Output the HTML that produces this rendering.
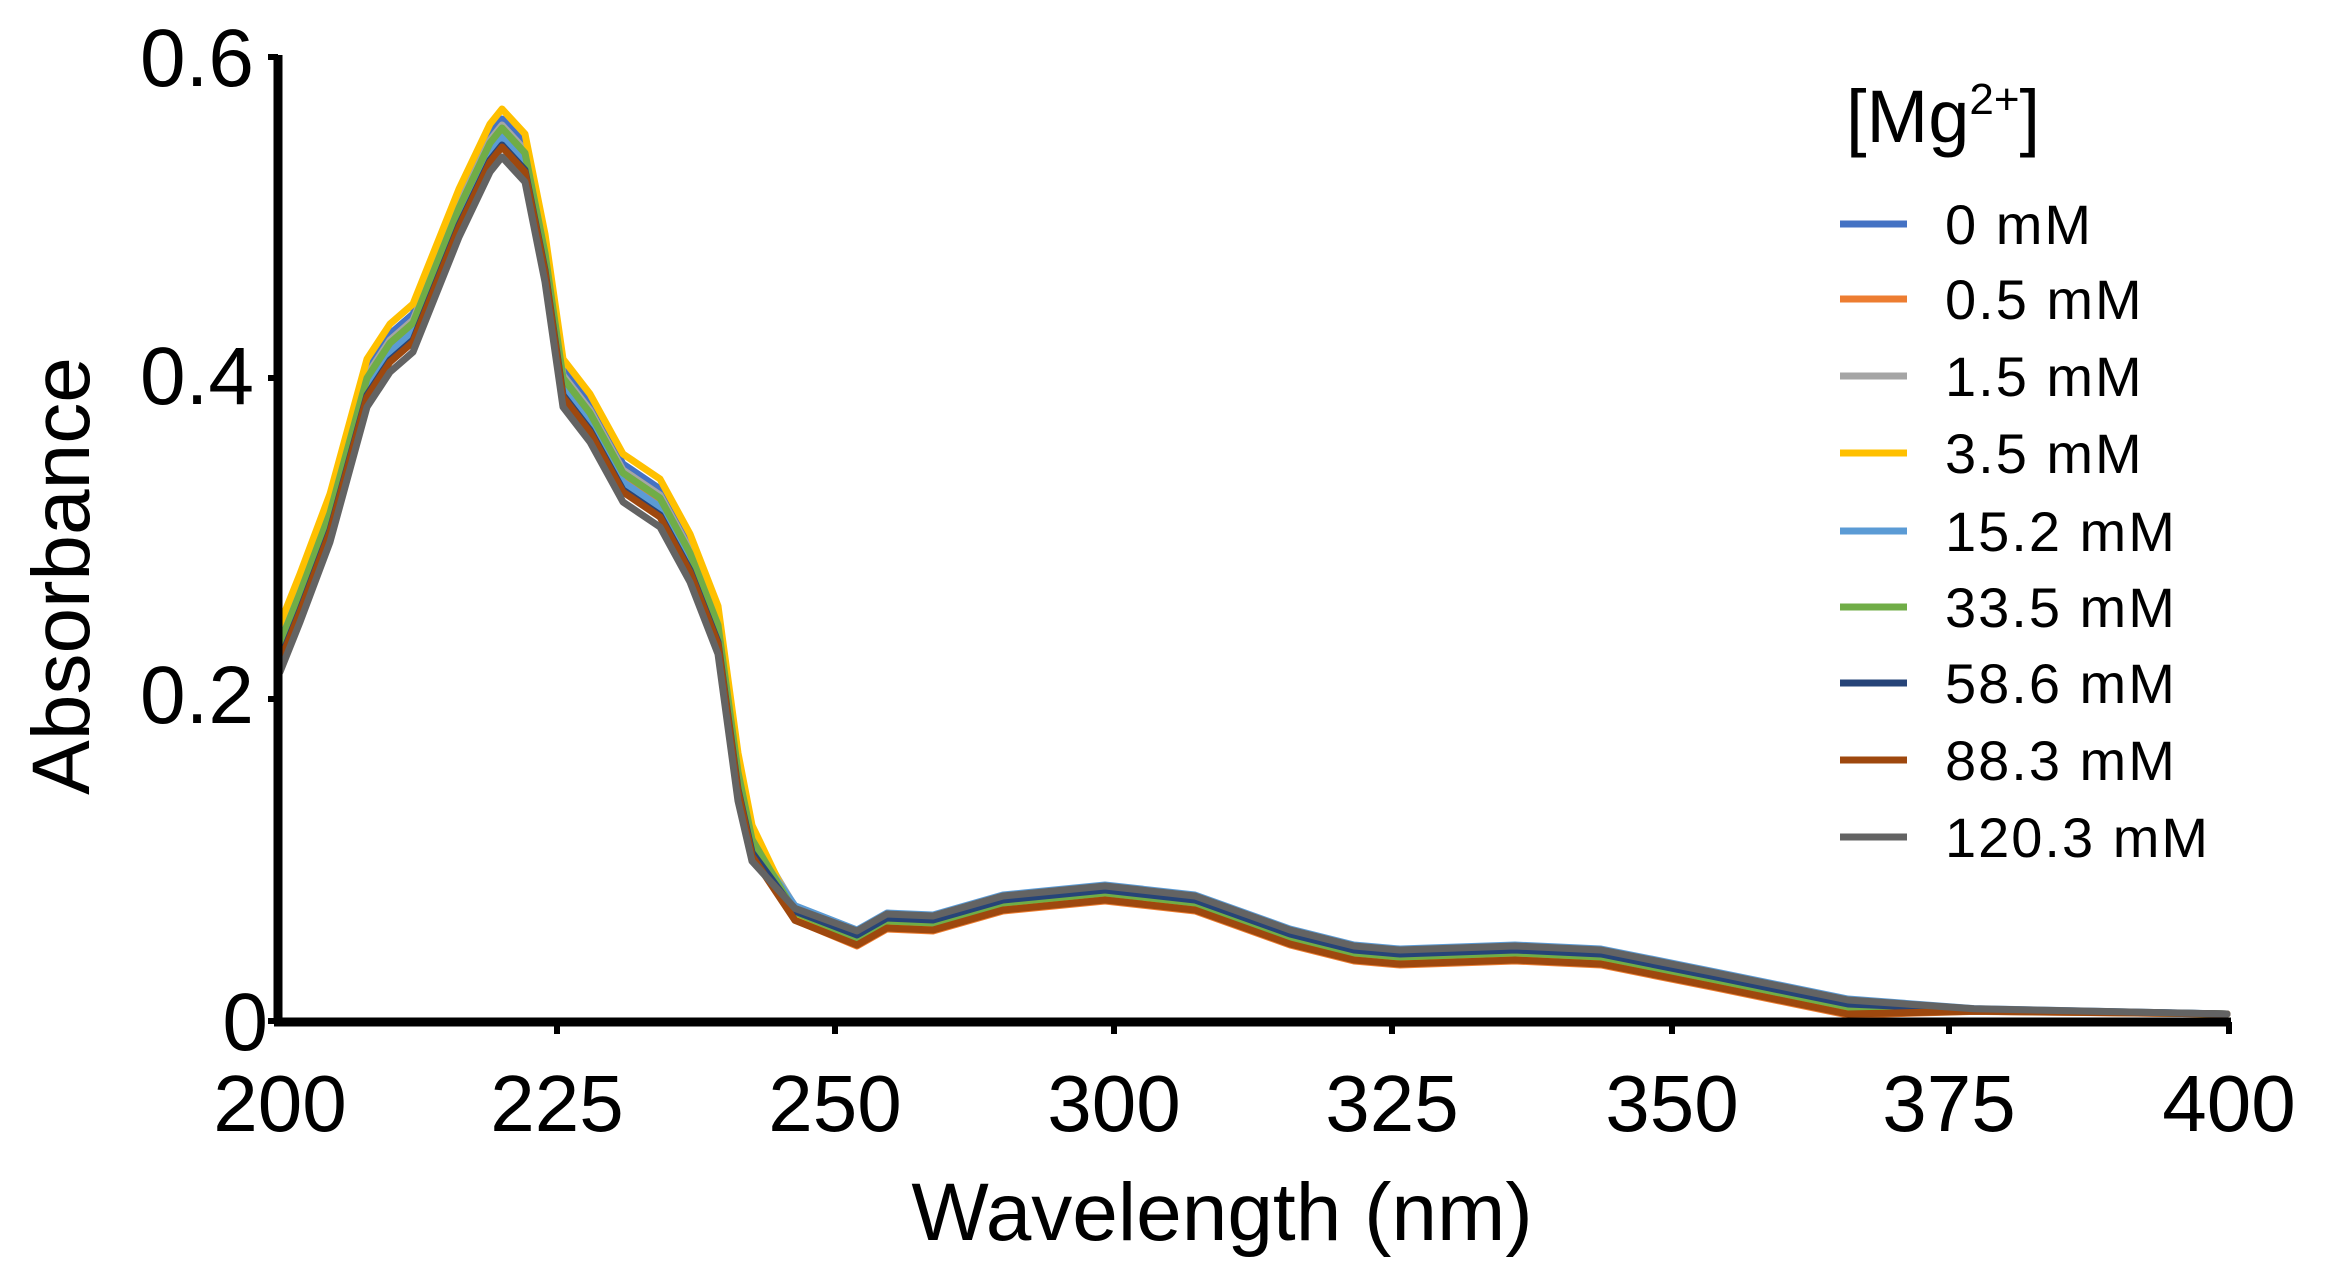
<!DOCTYPE html>
<html><head><meta charset="utf-8"><style>
html,body{margin:0;padding:0;background:#fff;}
svg{display:block;}
text{font-family:"Liberation Sans",sans-serif;fill:#000;}
</style></head><body>
<svg id="s" width="2330" height="1286" viewBox="0 0 2330 1286" xmlns="http://www.w3.org/2000/svg">
<g id="curves" fill="none" stroke-width="7" stroke-linejoin="round" stroke-linecap="round"></g>
<line x1="278" y1="55" x2="278" y2="1022" stroke="#000" stroke-width="9"/>
<line x1="274" y1="1022" x2="2231" y2="1022" stroke="#000" stroke-width="9"/>
<g stroke="#000" stroke-width="6">
<line x1="268" y1="57" x2="278" y2="57"/><line x1="268" y1="378" x2="278" y2="378"/>
<line x1="268" y1="699" x2="278" y2="699"/><line x1="268" y1="1021" x2="278" y2="1021"/>
<line x1="557" y1="1022" x2="557" y2="1034"/><line x1="835" y1="1022" x2="835" y2="1034"/>
<line x1="1114" y1="1022" x2="1114" y2="1034"/><line x1="1392" y1="1022" x2="1392" y2="1034"/>
<line x1="1672" y1="1022" x2="1672" y2="1034"/><line x1="1949" y1="1022" x2="1949" y2="1034"/>
<line x1="2229" y1="1022" x2="2229" y2="1034"/>
</g>
<g font-size="82" text-anchor="end">
<text x="254" y="86">0.6</text>
<text x="254" y="404">0.4</text>
<text x="254" y="723">0.2</text>
<text x="268" y="1050">0</text>
</g>
<g font-size="80" text-anchor="middle">
<text x="280" y="1131">200</text>
<text x="557" y="1131">225</text>
<text x="835" y="1131">250</text>
<text x="1114" y="1131">300</text>
<text x="1392" y="1131">325</text>
<text x="1672" y="1131">350</text>
<text x="1949" y="1131">375</text>
<text x="2229" y="1131">400</text>
</g>
<text x="1222" y="1240" font-size="82" text-anchor="middle">Wavelength (nm)</text>
<text transform="translate(89,576) rotate(-90)" font-size="82" text-anchor="middle">Absorbance</text>
<text x="1846" y="142" font-size="74">[Mg<tspan font-size="44" dy="-28">2+</tspan><tspan dy="28">]</tspan></text>
<g id="legend" font-size="56" letter-spacing="2"></g>
</svg>
<script>
var base=[[280,650],[300,600],[330,520],[367,385],[390,350],[413,330],[459,215],[490,150],[502,135],[525,160],[545,260],[563,385],[590,420],[623,480],[660,505],[690,560],[718,632],[738,779],[752,845],[795,913],[857,938],[887,921],[933,923],[1003,903],[1105,893],[1195,903],[1290,937],[1354,953],[1400,957],[1515,953],[1601,957],[1716,980],[1848,1007],[1974,1010],[2227,1014]];
var ser=[
["#4472C4","0 mM",-16,-2],
["#ED7D31","0.5 mM",-4,8],
["#A5A5A5","1.5 mM",-10,-6],
["#FFC000","3.5 mM",-26,5],
["#5B9BD5","15.2 mM",2,-8],
["#70AD47","33.5 mM",-7,0],
["#264478","58.6 mM",10,-3],
["#9E480E","88.3 mM",12,7],
["#636363","120.3 mM",22,-7]];
var g=document.getElementById('curves'),L=document.getElementById('legend'),ns="http://www.w3.org/2000/svg";
var rows=[224,299,376,453,531,607,683,760,837];
ser.forEach(function(s,i){
 var pts=base.map(function(p){
  var x=p[0],y=p[1];
  var w=x<740?1:(x<800?(800-x)/60:0);
  var t=x<740?0:(x<800?(x-740)/60:1);
  var fade=x>1850?Math.max(0,1-(x-1850)/150):1;
  var off=(s[2]*w+s[3]*t)*fade;
  return x+","+Math.min(1016,y+off).toFixed(1);
 }).join(" ");
 var pl=document.createElementNS(ns,"polyline");pl.setAttribute("points",pts);pl.setAttribute("stroke",s[0]);g.appendChild(pl);
 var ln=document.createElementNS(ns,"line");ln.setAttribute("x1",1840);ln.setAttribute("x2",1907);ln.setAttribute("y1",rows[i]);ln.setAttribute("y2",rows[i]);ln.setAttribute("stroke",s[0]);ln.setAttribute("stroke-width",7);L.appendChild(ln);
 var tx=document.createElementNS(ns,"text");tx.setAttribute("x",1945);tx.setAttribute("y",rows[i]+20);tx.textContent=s[1];L.appendChild(tx);
});
</script>
</body></html>
